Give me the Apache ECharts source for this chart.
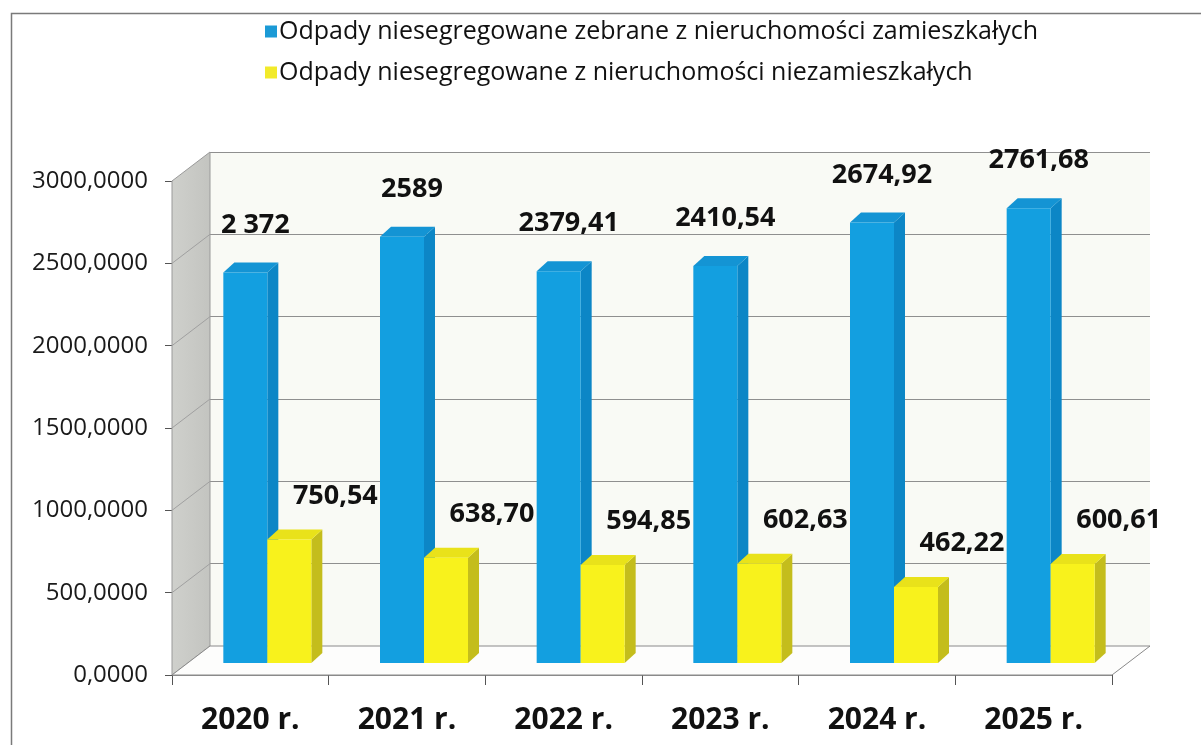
<!DOCTYPE html>
<html>
<head>
<meta charset="utf-8">
<script src="https://cdn.jsdelivr.net/npm/echarts@6/dist/echarts.min.js"></script>
<style>
html,body{margin:0;padding:0;background:#fff;}
#chart{width:1201px;height:745px;}
</style>
</head>
<body>
<div id="chart"></div>
<script>
// ---- data ----
const categories = ['2020 r.', '2021 r.', '2022 r.', '2023 r.', '2024 r.', '2025 r.'];
const seriesNames = [
  'Odpady niesegregowane zebrane z nieruchomości zamieszkałych',
  'Odpady niesegregowane z nieruchomości niezamieszkałych'
];
const zamieszkale = [2372, 2589, 2379.41, 2410.54, 2674.92, 2761.68];
const niezamieszkale = [750.54, 638.70, 594.85, 602.63, 462.22, 600.61];
const labelsZamieszkale = ['2 372', '2589', '2379,41', '2410,54', '2674,92', '2761,68'];
const labelsNiezamieszkale = ['750,54', '638,70', '594,85', '602,63', '462,22', '600,61'];
const yMin = 0, yMax = 3000, yStep = 500;

// ---- layout / style constants ----
const FONT = '"Open Sans", "Noto Sans", sans-serif';
const BW = 44;            // bar front width
const BDX = 11, BDY = 10; // bar depth
const WDX = 38, WDY = 29; // wall depth
const blue = {front: '#139fe0', side: '#0c86c6', top: '#1494d4'};
const yellow = {front: '#f8f21c', side: '#c4bd1c', top: '#e9e21a'};

function fmtAxis(v) { return v.toFixed(4).replace('.', ','); }

function render3D(colors, sign) {
  return function (params, api) {
    const i = api.value(0), v = api.value(1);
    const top = api.coord([i, v]);
    const base = api.coord([i, 0]);
    const xl = sign < 0 ? top[0] - BW : top[0];
    const xr = xl + BW;
    return {
      type: 'group',
      children: [
        {type: 'polygon', shape: {points: [[xr, top[1]], [xr + BDX, top[1] - BDY], [xr + BDX, base[1] - BDY], [xr, base[1]]]},
          style: {fill: colors.side}},
        {type: 'polygon', shape: {points: [[xl, top[1]], [xl + BDX, top[1] - BDY], [xr + BDX, top[1] - BDY], [xr, top[1]]]},
          style: {fill: colors.top}}
      ]
    };
  };
}

function renderWalls(params, api) {
  const cs = params.coordSys;
  const x0 = cs.x, x1 = cs.x + cs.width;
  const yTop = api.coord([0, yMax])[1];
  const yBot = api.coord([0, yMin])[1];
  const children = [];
  children.push({type: 'polygon', shape: {points: [[x0, yTop], [x0 + WDX, yTop - WDY], [x0 + WDX, yBot - WDY], [x0, yBot]]},
    style: {fill: new echarts.graphic.LinearGradient(0, 0, 1, 0, [{offset: 0, color: '#cfd0cc'}, {offset: 1, color: '#c3c4c0'}]), stroke: '#9a9a9a', lineWidth: 1}});
  children.push({type: 'polygon', shape: {points: [[x0, yBot], [x1, yBot], [x1 + WDX, yBot - WDY], [x0 + WDX, yBot - WDY]]},
    style: {fill: '#fdfdfc', stroke: '#8a8a8a', lineWidth: 1}});
  for (let v = yMin + yStep; v < yMax; v += yStep) {
    const y = api.coord([0, v])[1];
    children.push({type: 'line', shape: {x1: x0, y1: y, x2: x0 + WDX, y2: y - WDY}, style: {stroke: '#a0a0a0', lineWidth: 1}});
  }
  return {type: 'group', children: children};
}

const chart = echarts.init(document.getElementById('chart'));
const gridW = 940, gridH = 494;
const option = {
  backgroundColor: '#ffffff',
  animation: false,
  textStyle: {fontFamily: FONT},
  graphic: [{type: 'rect', left: 9, top: 11, shape: {width: 1400, height: 900}, style: {fill: 'none', stroke: '#7a7a7a', lineWidth: 1.5}, z: 100, silent: true}],
  legend: {
    orient: 'vertical', left: 260, top: 14, itemGap: 16, itemWidth: 12, itemHeight: 12, icon: 'rect',
    textStyle: {fontFamily: FONT, fontSize: 25, color: '#111', padding: [0, 0, 0, -3]}
  },
  grid: [
    {left: 172, top: 181, width: gridW, height: gridH},                    // front axes
    {left: 172 + 17, top: 181 - 12, width: gridW, height: gridH},          // bars (mid depth)
    {left: 172 + WDX, top: 181 - WDY, width: gridW, height: gridH, show: true, backgroundColor: '#f9faf5', borderWidth: 0} // back wall
  ],
  xAxis: [
    {gridIndex: 0, type: 'category', data: categories,
      axisLine: {show: true, lineStyle: {color: '#8a8a8a', width: 1}},
      axisTick: {show: true, length: 10, lineStyle: {color: '#555'}},
      axisLabel: {fontFamily: FONT, fontSize: 30, fontWeight: 'bold', color: '#111', margin: 30},
      splitLine: {show: false}},
    {gridIndex: 1, type: 'category', data: categories, show: false},
    {gridIndex: 2, type: 'category', data: categories, show: false}
  ],
  yAxis: [
    {gridIndex: 0, type: 'value', min: yMin, max: yMax, interval: yStep,
      axisLine: {show: true, lineStyle: {color: '#8a8a8a'}},
      axisTick: {show: true, length: 7, lineStyle: {color: '#555'}},
      axisLabel: {fontFamily: FONT, fontSize: 24, color: '#1a1a1a', margin: 24, formatter: fmtAxis},
      splitLine: {show: false}},
    {gridIndex: 1, type: 'value', min: yMin, max: yMax, interval: yStep, show: false},
    {gridIndex: 2, type: 'value', min: yMin, max: yMax, interval: yStep,
      axisLine: {show: false}, axisTick: {show: false}, axisLabel: {show: false},
      splitLine: {show: true, lineStyle: {color: '#8f8f8f', width: 1.2}}}
  ],
  series: [
    {type: 'custom', name: 'walls', xAxisIndex: 0, yAxisIndex: 0, renderItem: renderWalls, data: [[0, 0]], z: 1, silent: true},
    {type: 'bar', name: seriesNames[0], xAxisIndex: 1, yAxisIndex: 1, data: zamieszkale, barWidth: BW, barGap: '0%',
      itemStyle: {color: blue.front}, z: 3,
      label: {show: true, position: 'top', distance: 34, offset: [10, 0], fontFamily: FONT, fontSize: 27, fontWeight: 'bold', color: '#111',
        formatter: p => labelsZamieszkale[p.dataIndex]}},
    {type: 'custom', name: 'zam3d', xAxisIndex: 1, yAxisIndex: 1, renderItem: render3D(blue, -1),
      data: zamieszkale.map((v, i) => [i, v]), z: 3, silent: true},
    {type: 'bar', name: seriesNames[1], xAxisIndex: 1, yAxisIndex: 1, data: niezamieszkale, barWidth: BW, barGap: '0%',
      itemStyle: {color: yellow.front}, z: 4,
      label: {show: true, position: 'top', distance: 30, offset: [46, 0], fontFamily: FONT, fontSize: 27, fontWeight: 'bold', color: '#111',
        formatter: p => labelsNiezamieszkale[p.dataIndex]}},
    {type: 'custom', name: 'niezam3d', xAxisIndex: 1, yAxisIndex: 1, renderItem: render3D(yellow, 1),
      data: niezamieszkale.map((v, i) => [i, v]), z: 4, silent: true}
  ]
};
option.legend.data = [
  {name: seriesNames[0], itemStyle: {color: '#1b9ad6'}},
  {name: seriesNames[1], itemStyle: {color: '#f2ea2a'}}
];
chart.setOption(option);
</script>
</body>
</html>
